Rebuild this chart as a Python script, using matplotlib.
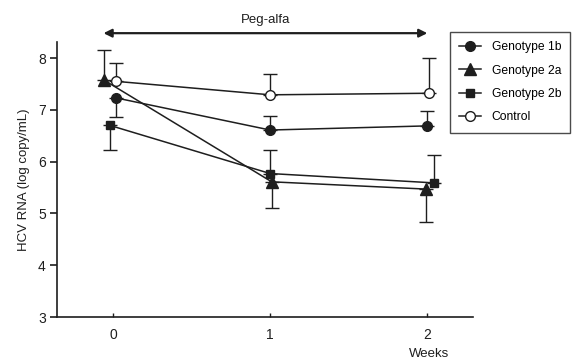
import matplotlib
matplotlib.use("Agg")
import matplotlib.pyplot as plt
import numpy as np

plt.rcParams['font.family'] = ['Liberation Sans', 'DejaVu Sans']

weeks = [0, 1, 2]
tick_labels = ["0", "1", "2"]
series_names = ["Genotype 1b", "Genotype 2a", "Genotype 2b", "Control"]

# slight horizontal dodge of each series around the week positions
dodge_g1b = [0.02, 0.0, 0.0]
dodge_g2a = [-0.06, 0.01, -0.01]
dodge_g2b = [-0.02, 0.0, 0.04]
dodge_ctl = [0.02, 0.0, 0.01]

y_g1b = [7.23, 6.61, 6.69]
y_g2a = [7.58, 5.61, 5.47]
y_g2b = [6.70, 5.77, 5.59]
y_ctl = [7.55, 7.29, 7.32]

# one-sided error bars (lower, upper)
err_g1b_lo = [0.37, 0.0, 0.0]
err_g1b_hi = [0.0, 0.27, 0.29]
err_g2a_lo = [0.0, 0.51, 0.64]
err_g2a_hi = [0.57, 0.0, 0.0]
err_g2b_lo = [0.48, 0.0, 0.0]
err_g2b_hi = [0.0, 0.45, 0.54]
err_ctl_lo = [0.0, 0.0, 0.0]
err_ctl_hi = [0.36, 0.40, 0.69]

col = "#1e1e1e"

fig = plt.figure(figsize=(5.85, 3.62), dpi=100)
ax = fig.add_axes([0.0974, 0.1243, 0.711, 0.7583])

def draw(dodge, y, lo, hi, marker, mfc, ms, label, z):
    x = np.array(weeks, dtype=float) + np.array(dodge)
    ax.errorbar(x, y, yerr=[lo, hi], fmt='none', ecolor=col, elinewidth=1.0,
                capsize=5, capthick=1.0, zorder=z - 1)
    ax.plot(x, y, color=col, lw=1.1, marker=marker, ms=ms, mfc=mfc,
            mec=col, mew=1.0, label=label, zorder=z)

draw(dodge_g1b, y_g1b, err_g1b_lo, err_g1b_hi, 'o', col, 7, series_names[0], 5)
draw(dodge_g2a, y_g2a, err_g2a_lo, err_g2a_hi, '^', col, 8, series_names[1], 4)
draw(dodge_g2b, y_g2b, err_g2b_lo, err_g2b_hi, 's', col, 6, series_names[2], 3)
draw(dodge_ctl, y_ctl, err_ctl_lo, err_ctl_hi, 'o', 'white', 7, series_names[3], 6)

ax.set_xlim(-0.356, 2.29)
ax.set_ylim(3, 8.3)
ax.set_xticks(weeks)
ax.set_xticklabels(tick_labels)
ax.set_yticks([3, 4, 5, 6, 7, 8])
for s in ['top', 'right']:
    ax.spines[s].set_visible(False)
for s in ['left', 'bottom']:
    ax.spines[s].set_linewidth(1.2)
    ax.spines[s].set_color(col)
ax.tick_params(axis='x', direction='in', length=3, width=1, labelsize=10,
               pad=8, colors=col)
ax.tick_params(axis='y', direction='out', length=5, width=1.2, labelsize=10,
               pad=3, colors=col)
ax.set_ylabel("HCV RNA (log copy/mL)", fontsize=9.5, color=col, labelpad=6)
fig.text(429 / 585, 1 - 354 / 362, "Weeks", fontsize=9.5, ha='center',
         va='center', color=col)

# treatment period arrow
ax.annotate("", xy=(2.0, 8.48), xytext=(-0.06, 8.48),
            arrowprops=dict(arrowstyle='<|-|>', color=col, lw=1.6,
                            mutation_scale=12, shrinkA=0, shrinkB=0),
            annotation_clip=False)
ax.text(0.97, 8.73, "Peg-alfa", fontsize=9.5, ha='center', va='center',
        color=col)

leg = fig.legend(loc='upper left', bbox_to_anchor=(450 / 585, 1 - 32 / 362),
                 frameon=True, fancybox=False, fontsize=8.7, handlelength=1.8,
                 labelspacing=0.95, borderpad=0.75, handletextpad=0.9,
                 borderaxespad=0)
leg.get_frame().set_edgecolor(col)
leg.get_frame().set_linewidth(1.0)

fig.savefig("out.png", dpi=100)
